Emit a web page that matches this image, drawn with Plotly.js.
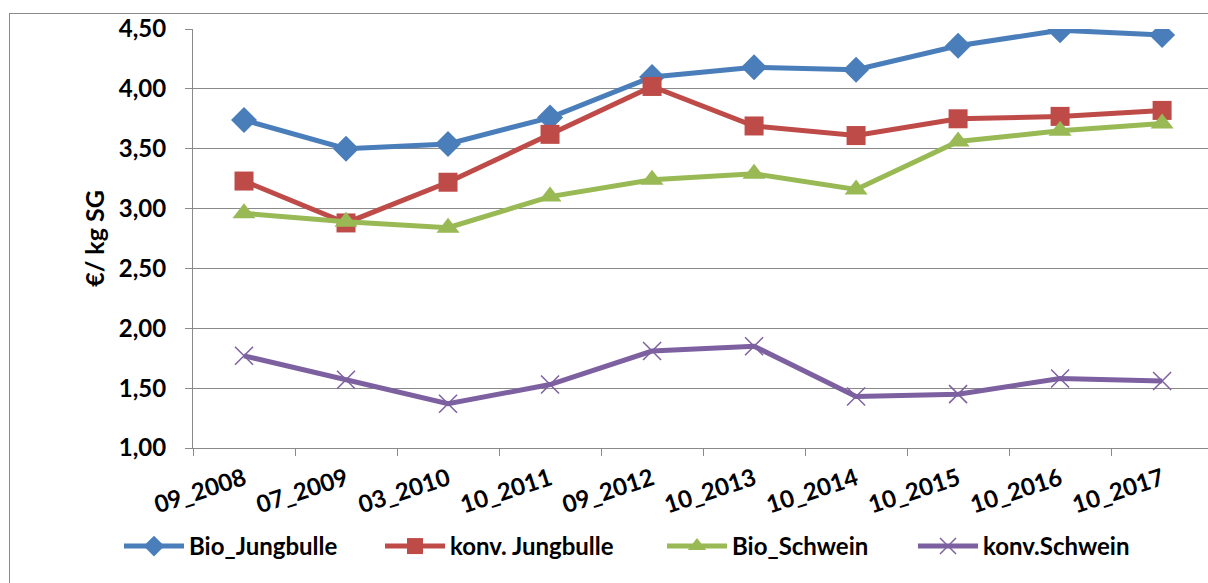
<!DOCTYPE html>
<html>
<head>
<meta charset="utf-8">
<script src="https://cdn.plot.ly/plotly-3.0.1.min.js"></script>
<style>
  html, body { margin: 0; padding: 0; background: #fff; overflow: hidden; }
  #chart { width: 1208px; height: 583px; }
  #frame { position: absolute; left: 9px; top: 13px; width: 1400px; height: 800px;
           border: 1px solid #8a8a8a; pointer-events: none; }
</style>
</head>
<body>
<div id="chart"></div>
<div id="frame"></div>
<script>
const categories = ["09_2008", "07_2009", "03_2010", "10_2011", "09_2012", "10_2013", "10_2014", "10_2015", "10_2016", "10_2017"];
const bioJungbulle  = [3.74, 3.50, 3.54, 3.76, 4.10, 4.18, 4.16, 4.36, 4.49, 4.45];
const konvJungbulle = [3.23, 2.88, 3.22, 3.62, 4.02, 3.69, 3.61, 3.75, 3.77, 3.82];
const bioSchwein    = [2.96, 2.89, 2.84, 3.10, 3.24, 3.29, 3.16, 3.56, 3.65, 3.71];
const konvSchwein   = [1.77, 1.57, 1.37, 1.53, 1.81, 1.85, 1.43, 1.45, 1.58, 1.56];
const yTickVals = [1.0, 1.5, 2.0, 2.5, 3.0, 3.5, 4.0, 4.5];
const yTickText = ["1,00", "1,50", "2,00", "2,50", "3,00", "3,50", "4,00", "4,50"];

const FONT = "Lato, 'Liberation Sans', sans-serif";

function trace(name, y, color, symbol, size, legend, extraMarker) {
  return {
    type: "scatter", mode: "lines+markers", name: name,
    x: categories, y: y, legend: legend,
    line: { color: color, width: 5 },
    marker: Object.assign({ color: color, symbol: symbol, size: size }, extraMarker || {})
  };
}

const data = [
  trace("Bio_Jungbulle", bioJungbulle, "#4a7ebb", "diamond", 20, "legend"),
  trace("konv. Jungbulle", konvJungbulle, "#be4b48", "square", 19, "legend2"),
  trace("Bio_Schwein", bioSchwein, "#98b954", "triangle-up", 20, "legend3"),
  trace("konv.Schwein", konvSchwein, "#7d60a0", "x-thin", 18, "legend4", { line: { color: "#7d60a0", width: 1.5 } })
];

const plotW = 1208 - 193;
function lx(px) { return (px - 193) / plotW; }
const legBase = {
  orientation: "h", yanchor: "middle", y: -0.235, xanchor: "left",
  font: { family: FONT, size: 24, color: "#000", weight: "bold" },
  itemwidth: 60, bgcolor: "rgba(0,0,0,0)", borderwidth: 0, tracegroupgap: 0
};

const layout = {
  width: 1208, height: 583,
  margin: { l: 193, r: 0, t: 29, b: 135, pad: 0 },
  paper_bgcolor: "#fff", plot_bgcolor: "#fff",
  font: { family: FONT, size: 24, color: "#000", weight: "bold" },
  xaxis: {
    type: "category", range: [-0.5, 9.45],
    showgrid: false, zeroline: false,
    showline: true, linecolor: "#8a8a8a", linewidth: 1,
    ticks: "outside", tickson: "boundaries", ticklen: 7, tickcolor: "#8a8a8a",
    tickangle: -18, ticklabelstandoff: 7,
    tickfont: { family: FONT, size: 24, color: "#000", weight: "bold" }
  },
  yaxis: {
    range: [1.0, 4.5], tickvals: yTickVals, ticktext: yTickText,
    showgrid: true, gridcolor: "#8a8a8a", gridwidth: 1,
    zeroline: false, showline: true, linecolor: "#8a8a8a", linewidth: 1,
    ticks: "outside", ticklen: 7, tickcolor: "#8a8a8a", ticklabelstandoff: 14,
    tickfont: { family: FONT, size: 24, color: "#000", weight: "bold" },
    title: { text: "€/ kg SG", standoff: 7, font: { family: FONT, size: 25, color: "#000", weight: "bold" } }
  },
  legend:  Object.assign({}, legBase, { x: lx(119) }),
  legend2: Object.assign({}, legBase, { x: lx(380) }),
  legend3: Object.assign({}, legBase, { x: lx(662) }),
  legend4: Object.assign({}, legBase, { x: lx(913) }),
  showlegend: true
};

Plotly.newPlot("chart", data, layout, { displayModeBar: false, staticPlot: true });
</script>
</body>
</html>
